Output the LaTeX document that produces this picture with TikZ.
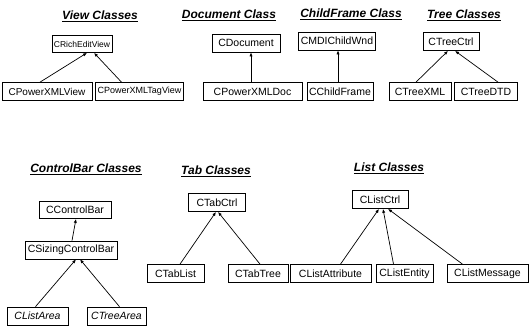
\documentclass[tikz,border=0pt]{standalone}
\usepackage{fontspec}
\setmainfont{Liberation Sans}
\usetikzlibrary{arrows.meta, positioning}

\begin{document}
\begin{tikzpicture}[
    x=1pt, y=-1pt,
    every node/.style={font=\fontsize{10.5}{12}\selectfont},
    cls_box/.style={
        rectangle,
        draw=black,
        line width=0.7pt,
        minimum height=18pt,
        inner xsep=2pt,
        inner ysep=1pt,
        align=center
    },
    small_box/.style={cls_box, font=\fontsize{8.5}{10}\selectfont},
    grp_title/.style={font=\fontsize{12}{14}\selectfont\bfseries\itshape, inner sep=1pt},
    arrow/.style={line width=0.7pt, -{Latex[length=4pt, width=3.2pt]}}
]
\useasboundingbox (0,0) rectangle (532,330);

% view classes
\node[grp_title] (hview) at (100,16) {\underline{View Classes}};
\node[small_box, minimum width=58pt, minimum height=17pt] (richview) at (82,44) {CRichEditView};
\node[small_box, minimum width=90pt, font=\fontsize{10}{12}\selectfont] (pxview) at (47,91.5) {CPowerXMLView};
\node[small_box, minimum width=85pt, font=\fontsize{9}{11}\selectfont] (pxtagview) at (139.5,91.5) {CPowerXMLTagView};

% document class
\node[grp_title] (hdoc) at (229,15) {\underline{Document Class}};
\node[cls_box, minimum width=68pt] (doc) at (246,43) {CDocument};
\node[cls_box, minimum width=99pt] (pxdoc) at (252.5,91.5) {CPowerXMLDoc};

% childframe class
\node[grp_title] (hchild) at (351,14) {\underline{ChildFrame Class}};
\node[cls_box, minimum width=67pt] (mdichild) at (337,41) {CMDIChildWnd};
\node[cls_box, minimum width=64pt] (childframe) at (340,91.5) {CChildFrame};

% tree classes
\node[grp_title] (htree) at (464,15) {\underline{Tree Classes}};
\node[cls_box, minimum width=56pt] (treectrl) at (451,41.5) {CTreeCtrl};
\node[cls_box, minimum width=62pt] (treexml) at (420,91.5) {CTreeXML};
\node[cls_box, minimum width=63pt] (treedtd) at (486,91.5) {CTreeDTD};

% controlbar classes
\node[grp_title] (hctrlbar) at (86,169) {\underline{ControlBar Classes}};
\node[cls_box, minimum width=72pt, minimum height=17pt] (ctrlbar) at (75,210) {CControlBar};
\node[cls_box, minimum width=92pt] (sizingbar) at (71,250) {CSizingControlBar};
\node[cls_box, minimum width=61pt, font=\fontsize{10.5}{12}\selectfont\itshape] (listarea) at (37.5,316) {CListArea};
\node[cls_box, minimum width=59pt, font=\fontsize{10.5}{12}\selectfont\itshape] (treearea) at (116.5,316) {CTreeArea};

% tab classes
\node[grp_title] (htab) at (216,171) {\underline{Tab Classes}};
\node[cls_box, minimum width=57pt] (tabctrl) at (217,202.5) {CTabCtrl};
\node[cls_box, minimum width=57pt] (tablist) at (175.5,273.5) {CTabList};
\node[cls_box, minimum width=60pt] (tabtree) at (258,273.5) {CTabTree};

% list classes
\node[grp_title] (hlist) at (389,168) {\underline{List Classes}};
\node[cls_box, minimum width=56pt] (listctrl) at (380,199.5) {CListCtrl};
\node[cls_box, minimum width=81pt] (listattr) at (330.5,273.5) {CListAttribute};
\node[cls_box, minimum width=57pt] (listentity) at (404.5,273.5) {CListEntity};
\node[cls_box, minimum width=81pt] (listmsg) at (487.5,273.5) {CListMessage};

\draw[arrow] ([xshift=-7pt]pxview.north) -- ([xshift=5pt]richview.south);
\draw[arrow] ([xshift=-18pt]pxtagview.north) -- ([xshift=12pt]richview.south);
\draw[arrow] ([xshift=-1.5pt]pxdoc.north) -- ([xshift=5pt]doc.south);
\draw[arrow] ([xshift=-2pt]childframe.north) -- ([xshift=1pt]mdichild.south);
\draw[arrow] ([xshift=-4pt]treexml.north) -- ([xshift=-3pt]treectrl.south);
\draw[arrow] ([xshift=12pt]treedtd.north) -- ([xshift=4pt]treectrl.south);
\draw[arrow] ([xshift=1pt]sizingbar.north) -- ([xshift=1pt]ctrlbar.south);
\draw[arrow] ([xshift=-2pt]listarea.north) -- ([xshift=5pt]sizingbar.south);
\draw[arrow] ([xshift=3pt]treearea.north) -- ([xshift=9pt]sizingbar.south);
\draw[arrow] ([xshift=4.5pt]tablist.north) -- ([xshift=-1pt]tabctrl.south);
\draw[arrow] ([xshift=2pt]tabtree.north) -- ([xshift=1pt]tabctrl.south);
\draw[arrow] ([xshift=10pt]listattr.north) -- ([xshift=-1pt]listctrl.south);
\draw[arrow] ([xshift=-11pt]listentity.north) -- ([xshift=3pt]listctrl.south);
\draw[arrow] ([xshift=-25pt]listmsg.north) -- ([xshift=8pt]listctrl.south);

\end{tikzpicture}
\end{document}
